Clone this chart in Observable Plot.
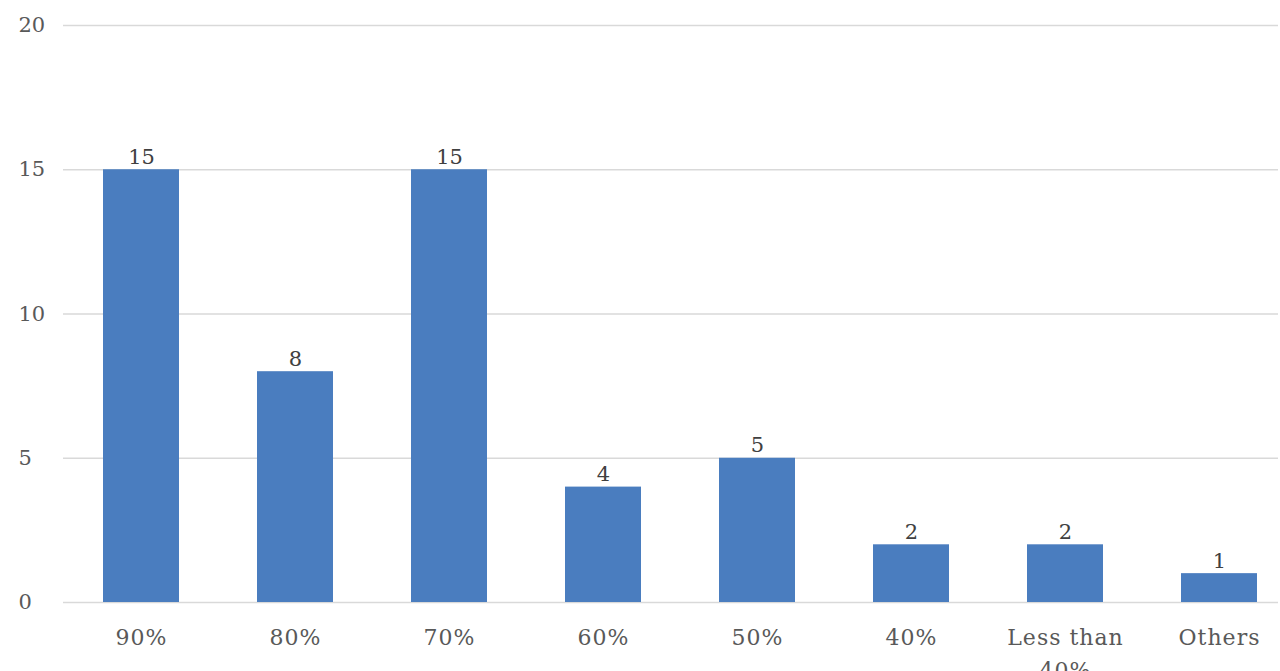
<!DOCTYPE html>
<html><head><meta charset="utf-8">
<script src="https://cdn.jsdelivr.net/npm/d3@7"></script>
<script src="https://cdn.jsdelivr.net/npm/@observablehq/plot@0.6"></script>
<style>
body{margin:0;background:#fff;overflow:hidden}
g[aria-label="x-axis tick label"] text{letter-spacing:1px}
</style>
</head><body><div id="chart"></div>
<script>
const categories = ["90%","80%","70%","60%","50%","40%","Less than 40%","Others"];
const counts = [15,8,15,4,5,2,2,1];
const yTicks = [0,5,10,15,20];
const data = categories.map((c,i)=>({category:c, count:counts[i]}));
const chart = Plot.plot({
  width:1280, height:671, marginLeft:63, marginRight:2, marginTop:25, marginBottom:69,
  style:{fontFamily:"'DejaVu Serif', serif", background:"#fff"},
  x:{domain:categories, range:[102,1257], paddingInner:0.507, paddingOuter:0},
  y:{domain:[0,20]},
  marks:[
    Plot.gridY(yTicks,{stroke:"#d9d9d9", strokeOpacity:1, strokeWidth:1.5}),
    Plot.barY(data,{x:"category", y:"count", fill:"#4a7dbf"}),
    Plot.text(data,{x:"category", y:"count", text:d=>String(d.count), lineAnchor:"bottom", dy:-6, fontSize:21, fill:"#404040"}),
    Plot.axisY(yTicks,{tickSize:0, tickPadding:45, textAnchor:"start", fontSize:21, fill:"#595959", label:null}),
    Plot.axisX({tickSize:0, tickPadding:19, fontSize:22, lineHeight:1.5, fill:"#595959", label:null, tickFormat:d=>d==="Less than 40%"?"Less than\n40%":d})
  ]
});
document.getElementById("chart").append(chart);
</script>
</body></html>
